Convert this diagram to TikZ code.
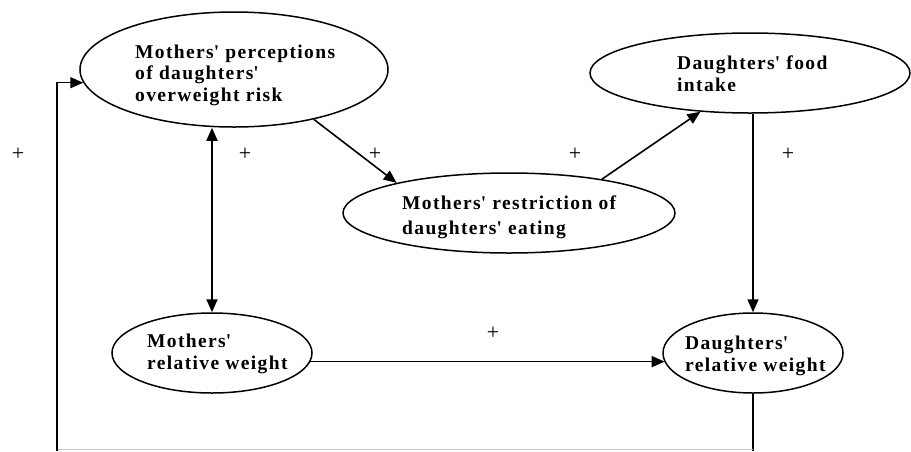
\documentclass[tikz,border=0pt]{standalone}
\usepackage{fontspec}
\setmainfont{Liberation Serif}
\newfontfamily\lblfont[LetterSpace=7]{Liberation Serif}
\usetikzlibrary{arrows.meta,shapes.geometric}
\newcommand\ap{\textquotesingle}
\begin{document}
\begin{tikzpicture}[x=1pt,y=-1pt,
  oval/.style={draw, ellipse, line width=1.5pt, inner sep=0pt},
  txt/.style={anchor=north west, inner sep=0pt, align=left, font=\lblfont\bfseries\fontsize{19.5}{21.5}\selectfont},
  conn/.style={line width=1.6pt},
  arr/.style={conn, -{Triangle[length=13pt,width=11pt]}},
  biarr/.style={conn, {Triangle[length=13pt,width=11pt]}-{Triangle[length=13pt,width=11pt]}},
  plus/.style={font=\fontsize{22}{22}\selectfont, inner sep=0pt}]
\useasboundingbox (0,0) rectangle (911,451);

% ellipses
\node[oval, minimum width=308pt, minimum height=115pt] (p)  at (234,69.5) {};
\node[oval, minimum width=320pt, minimum height=80pt]  (fi) at (750,73) {};
\node[oval, minimum width=332pt, minimum height=80pt]  (r)  at (509,213) {};
\node[oval, minimum width=200pt, minimum height=80pt]  (mw) at (212,353) {};
\node[oval, minimum width=180pt, minimum height=80pt]  (dw) at (753,353) {};

% texts
\node[txt] (pt)  at (135,44.5) {Mothers\ap{} perceptions\\of daughters\ap\\overweight risk};
\node[txt] (fit) at (677,56) {Daughters\ap{} food\\intake};
\node[txt] (rt)  at (402,196) {Mothers\ap{} restriction of\\[3pt]daughters\ap{} eating};
\node[txt] (mwt) at (147,334) {Mothers\ap\\relative weight};
\node[txt] (dwt) at (685,336) {Daughters\ap\\relative weight};

% connectors
\draw[biarr] (mw.north) -- (mw.north |- p.south);
\draw[arr] (p.-32) -- (r.165);
\draw[arr] (r.20) -- (fi.218);
\draw[arr] (fi.south -| dw.north) -- (dw.north);
\draw[arr] (mw.-5) -- (mw.-5 -| dw.186);

% feedback loop
\coordinate (fbl) at (57,451);
\coordinate (fbh) at (57,449.5);
\draw[conn] (dw.south) -- (dw.south |- fbl);
\draw[gray!45, line width=1pt] (dw.south |- fbh) -- (fbh);
\draw[arr] (fbl) |- (p.185);

% signs
\node[plus] (s1) at (18,154) {+};
\node[plus] (s2) at (245,154) {+};
\node[plus] (s3) at (375,154) {+};
\node[plus] (s4) at (575,154) {+};
\node[plus] (s5) at (788,154) {+};
\node[plus] (s6) at (493,333) {+};
\end{tikzpicture}
\end{document}
